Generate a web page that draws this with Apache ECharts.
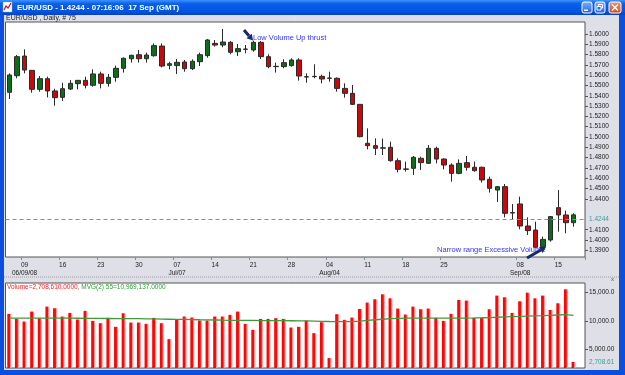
<!DOCTYPE html>
<html>
<head>
<meta charset="utf-8">
<title>EUR/USD Daily</title>
<script src="https://cdn.jsdelivr.net/npm/echarts@6/dist/echarts.min.js"></script>
<style>
html, body { margin: 0; padding: 0; background: #dfdfe7; }
#main { width: 625px; height: 375px; }
</style>
</head>
<body>
<div id="main"></div>
<script>
// daily bars: [open, close, low, high]
var candles = [
    [1.5434, 1.5602, 1.5369, 1.5618], [1.5595, 1.5780, 1.5570, 1.5796], [1.5786, 1.5650, 1.5618, 1.5851],
    [1.5647, 1.5463, 1.5430, 1.5650], [1.5463, 1.5566, 1.5440, 1.5592], [1.5566, 1.5447, 1.5385, 1.5586],
    [1.5447, 1.5382, 1.5304, 1.5469], [1.5385, 1.5469, 1.5350, 1.5527], [1.5466, 1.5521, 1.5456, 1.5553],
    [1.5518, 1.5550, 1.5463, 1.5553], [1.5550, 1.5502, 1.5472, 1.5586], [1.5502, 1.5612, 1.5489, 1.5657],
    [1.5612, 1.5521, 1.5472, 1.5634], [1.5521, 1.5579, 1.5489, 1.5612], [1.5579, 1.5667, 1.5537, 1.5693],
    [1.5667, 1.5764, 1.5625, 1.5773], [1.5760, 1.5793, 1.5722, 1.5799], [1.5799, 1.5760, 1.5722, 1.5845],
    [1.5760, 1.5796, 1.5722, 1.5819], [1.5789, 1.5887, 1.5780, 1.5909], [1.5883, 1.5689, 1.5676, 1.5909],
    [1.5696, 1.5712, 1.5657, 1.5731], [1.5693, 1.5725, 1.5612, 1.5757], [1.5728, 1.5663, 1.5634, 1.5748],
    [1.5663, 1.5735, 1.5650, 1.5754], [1.5731, 1.5799, 1.5689, 1.5819], [1.5790, 1.5942, 1.5770, 1.5951],
    [1.5909, 1.5893, 1.5877, 1.5942], [1.5893, 1.5922, 1.5871, 1.6049], [1.5919, 1.5822, 1.5803, 1.5932],
    [1.5828, 1.5858, 1.5786, 1.5903], [1.5854, 1.5851, 1.5812, 1.5893], [1.5845, 1.5919, 1.5828, 1.5935],
    [1.5919, 1.5780, 1.5757, 1.5932], [1.5780, 1.5683, 1.5667, 1.5803], [1.5683, 1.5686, 1.5625, 1.5722],
    [1.5683, 1.5722, 1.5667, 1.5754], [1.5693, 1.5748, 1.5683, 1.5764], [1.5748, 1.5592, 1.5547, 1.5764],
    [1.5586, 1.5582, 1.5527, 1.5618], [1.5589, 1.5586, 1.5570, 1.5706], [1.5589, 1.5563, 1.5521, 1.5605],
    [1.5570, 1.5573, 1.5537, 1.5634], [1.5570, 1.5472, 1.5440, 1.5579], [1.5472, 1.5424, 1.5382, 1.5521],
    [1.5424, 1.5317, 1.5311, 1.5505], [1.5317, 1.5003, 1.4997, 1.5317], [1.4939, 1.4916, 1.4880, 1.5084],
    [1.4916, 1.4890, 1.4825, 1.4987], [1.4895, 1.4892, 1.4825, 1.4985], [1.4900, 1.4770, 1.4761, 1.4955],
    [1.4770, 1.4686, 1.4657, 1.4793], [1.4686, 1.4690, 1.4664, 1.4761], [1.4696, 1.4803, 1.4631, 1.4816],
    [1.4793, 1.4751, 1.4680, 1.4809], [1.4744, 1.4890, 1.4738, 1.4922], [1.4890, 1.4786, 1.4744, 1.4906],
    [1.4786, 1.4728, 1.4686, 1.4793], [1.4728, 1.4647, 1.4566, 1.4744], [1.4647, 1.4744, 1.4638, 1.4783],
    [1.4751, 1.4706, 1.4673, 1.4816], [1.4706, 1.4673, 1.4663, 1.4761], [1.4706, 1.4583, 1.4557, 1.4712],
    [1.4589, 1.4502, 1.4460, 1.4615], [1.4485, 1.4518, 1.4369, 1.4524], [1.4518, 1.4259, 1.4220, 1.4544],
    [1.4262, 1.4266, 1.4194, 1.4350], [1.4350, 1.4136, 1.4104, 1.4421], [1.4136, 1.4091, 1.4049, 1.4220],
    [1.4097, 1.3929, 1.3926, 1.4178], [1.3935, 1.4006, 1.3929, 1.4032], [1.4000, 1.4227, 1.3984, 1.4233],
    [1.4314, 1.4243, 1.4081, 1.4485], [1.4243, 1.4168, 1.4065, 1.4285], [1.4168, 1.4244, 1.4129, 1.4259]
];

// volume in thousands
var volume = [
    11240, 10350, 9880, 11650, 10470, 12530, 12240, 10770, 11410, 10240,
    11770, 10000, 9590, 10530, 8940, 11350, 9700, 9700, 9470, 10530,
    9590, 6760, 10290, 10770, 10590, 10060, 10060, 10770, 10770, 11060,
    11650, 9470, 8410, 10350, 10350, 10470, 10350, 8820, 8940, 10060,
    7820, 9760, 3400, 11180, 10180, 10590, 12120, 13240, 13830, 14710,
    14000, 12180, 11120, 12530, 12060, 12180, 10530, 10000, 11240, 13710,
    13590, 10530, 10530, 12060, 14480, 14180, 11410, 13480, 15000, 14000,
    14480, 11940, 13120, 15600, 2708.61
];

// MVG 55 line
var volumeMa = [
    10470, 10470, 10480, 10480, 10470, 10480, 10490, 10480, 10470, 10460,
    10450, 10440, 10430, 10420, 10400, 10400, 10390, 10380, 10360, 10340,
    10310, 10290, 10270, 10250, 10230, 10200, 10180, 10150, 10120, 10100,
    10090, 10080, 10070, 10060, 10050, 10040, 10030, 10020, 10010, 10000,
    9960, 9920, 9890, 9880, 9880, 9890, 9950, 10100, 10200, 10290,
    10380, 10450, 10470, 10470, 10480, 10480, 10470, 10470, 10470, 10480,
    10500, 10520, 10550, 10590, 10640, 10700, 10760, 10800, 10850, 10900,
    10940, 10990, 11040, 11090, 10969
];

var priceTicks = [1.39, 1.40, 1.41, 1.44, 1.45, 1.46, 1.47, 1.48, 1.49, 1.50, 1.51,
    1.52, 1.53, 1.54, 1.55, 1.56, 1.57, 1.58, 1.59, 1.60];
var volTicks = [5000, 10000, 15000];
var volTickText = ['5,000.00', '10,000.0', '15,000.0'];

var tickIdx = [2, 7, 12, 17, 22, 27, 32, 37, 42, 47, 52, 57, 67, 72];
var tickDay = ['09', '16', '23', '30', '07', '14', '21', '28', '04', '11', '18', '25', '08', '15'];
var tickMonth = ['06/09/08', '', '', '', 'Jul/07', '', '', '', 'Aug/04', '', '', '', 'Sep/08', ''];

var lastPrice = 1.4244;
var lastVolume = 2708.61;

// trading days 5 Jun - 17 Sep 2008, plus one empty slot at the right edge
var dates = [];
var d = new Date(Date.UTC(2008, 5, 5));
while (dates.length < candles.length) {
    var wd = d.getUTCDay();
    if (wd != 0 && wd != 6) dates.push(d.toISOString().slice(0, 10));
    d.setUTCDate(d.getUTCDate() + 1);
}
dates.push('');

var FONT = 'Liberation Sans';

function arrow(x1, y1, x2, y2) {
    var a = Math.atan2(y2 - y1, x2 - x1);
    var hl = 6, hw = 3.5;
    var bx = x2 - hl * Math.cos(a), by = y2 - hl * Math.sin(a);
    var px = -Math.sin(a) * hw, py = Math.cos(a) * hw;
    return [
        { type: 'line', z: 50, shape: { x1: x1, y1: y1, x2: bx, y2: by },
          style: { stroke: '#142a6e', lineWidth: 3 } },
        { type: 'polygon', z: 50, shape: { points: [[x2, y2], [bx + px, by + py], [bx - px, by - py]] },
          style: { fill: '#142a6e' } }
    ];
}

function blueBtn(x, w) {
    return { type: 'rect', z: 60, shape: { x: x, y: 2, width: w, height: 11, r: 2 },
        style: { fill: new echarts.graphic.LinearGradient(0, 0, 0, 1, [
            { offset: 0, color: '#7fb0ff' }, { offset: 1, color: '#1f5fe8' }]), stroke: '#fff', lineWidth: 1 } };
}

var chrome = [
    // window frame
    { type: 'rect', z: 40, shape: { x: 0, y: 0, width: 4, height: 375 }, style: { fill: '#0b4ee0' } },
    { type: 'rect', z: 40, shape: { x: 619, y: 0, width: 6, height: 375 }, style: { fill: '#0b4ee0' } },
    { type: 'rect', z: 40, shape: { x: 0, y: 370, width: 625, height: 5 }, style: { fill: '#0b4ee0' } },
    // title bar
    { type: 'rect', z: 45, shape: { x: 0, y: 0, width: 625, height: 15 },
      style: { fill: new echarts.graphic.LinearGradient(0, 0, 0, 1, [
          { offset: 0, color: '#3d93ff' }, { offset: 0.25, color: '#0a5fea' },
          { offset: 0.8, color: '#0053e0' }, { offset: 1, color: '#0440c4' }]) } },
    { type: 'rect', z: 60, shape: { x: 3, y: 2, width: 9, height: 10 }, style: { fill: '#fff', stroke: '#8aa', lineWidth: 0.5 } },
    { type: 'polyline', z: 61, shape: { points: [[4, 10], [6, 6], [8, 8], [11, 3]] }, style: { stroke: '#d01010', lineWidth: 1.2 } },
    { type: 'text', z: 60, x: 17, y: 7.5, style: { text: 'EUR/USD - 1.4244 - 07:16:06  17 Sep (GMT)',
        fill: '#fff', font: 'bold 8px ' + FONT, verticalAlign: 'middle' } },
    blueBtn(582, 10),
    { type: 'rect', z: 61, shape: { x: 584, y: 9.5, width: 4, height: 1.5 }, style: { fill: '#fff' } },
    blueBtn(595, 10),
    { type: 'rect', z: 61, shape: { x: 598.5, y: 4.5, width: 4, height: 3.5 }, style: { fill: 'none', stroke: '#fff', lineWidth: 1 } },
    { type: 'rect', z: 61, shape: { x: 597, y: 6.5, width: 4, height: 3.5 }, style: { fill: '#2a66e8', stroke: '#fff', lineWidth: 1 } },
    { type: 'rect', z: 60, shape: { x: 609, y: 2, width: 12, height: 11, r: 2 },
      style: { fill: new echarts.graphic.LinearGradient(0, 0, 0, 1, [
          { offset: 0, color: '#f29a7a' }, { offset: 1, color: '#d9401c' }]), stroke: '#fff', lineWidth: 1 } },
    { type: 'line', z: 61, shape: { x1: 612, y1: 4.5, x2: 618, y2: 10.5 }, style: { stroke: '#fff', lineWidth: 1.5 } },
    { type: 'line', z: 61, shape: { x1: 618, y1: 4.5, x2: 612, y2: 10.5 }, style: { stroke: '#fff', lineWidth: 1.5 } },
    // pane headers and separator
    { type: 'text', z: 30, x: 6, y: 18.5, style: { text: 'EUR/USD , Daily, # 75', fill: '#222',
        font: '7px ' + FONT, verticalAlign: 'middle' } },
    { type: 'line', z: 30, shape: { x1: 4, y1: 277, x2: 619, y2: 277 }, style: { stroke: '#9a9aa4', lineDash: [1, 1], lineWidth: 1 } },
    { type: 'text', z: 30, x: 611, y: 279.5, style: { text: 'x', fill: '#555', font: '6px ' + FONT, verticalAlign: 'middle' } },
    { type: 'text', z: 30, x: 7, y: 287, style: {
        text: '{r|Volume=2,708,610.0000}{g|, MVG(2) 55=10,969,137.0000}',
        font: '6.5px ' + FONT, verticalAlign: 'middle',
        rich: { r: { fill: '#ff2020', font: '6.5px ' + FONT }, g: { fill: '#2e9a3a', font: '6.5px ' + FONT } } } },
    // annotations
    { type: 'text', z: 50, x: 253, y: 37.5, style: { text: 'Low Volume Up thrust', fill: '#3434ff',
        font: '7.5px ' + FONT, verticalAlign: 'middle' } },
    { type: 'text', z: 50, x: 437, y: 249.5, style: { text: 'Narrow range Excessive Volume', fill: '#3434ff',
        font: '7.5px ' + FONT, verticalAlign: 'middle' } }
].concat(arrow(244, 30, 253, 40.5), arrow(527, 258, 546, 247));

var myChart = echarts.init(document.getElementById('main'), null, { renderer: 'canvas' });

var axisText = { fontSize: 6.5, color: '#222', fontFamily: FONT };

myChart.setOption({
    animation: false,
    backgroundColor: '#dfdfe7',
    grid: [
        { left: 5.5, right: 40, top: 22, height: 235, show: true, backgroundColor: '#fff', borderColor: '#555', borderWidth: 1 },
        { left: 5.5, right: 40, top: 283, height: 85, show: true, backgroundColor: '#fff', borderColor: '#555', borderWidth: 1 }
    ],
    xAxis: [
        {
            type: 'category', gridIndex: 0, data: dates,
            axisLine: { show: false },
            axisTick: { show: true, length: 3, lineStyle: { color: '#6a9aa0' },
                interval: function (i) { return tickIdx.indexOf(i) >= 0; } },
            axisLabel: Object.assign({
                margin: 4, lineHeight: 8,
                interval: function (i) { return tickIdx.indexOf(i) >= 0; },
                formatter: function (v, i) {
                    var k = tickIdx.indexOf(i);
                    if (k < 0) return '';
                    return tickMonth[k] ? tickDay[k] + '\n' + tickMonth[k] : tickDay[k];
                }
            }, axisText),
            splitLine: { show: false }
        },
        {
            type: 'category', gridIndex: 1, data: dates,
            axisLine: { show: false }, axisTick: { show: false }, axisLabel: { show: false }, splitLine: { show: false }
        }
    ],
    yAxis: [
        {
            type: 'value', gridIndex: 0, position: 'right', min: 1.3835, max: 1.61165,
            axisLine: { show: false },
            axisTick: { show: true, length: 3, customValues: priceTicks, lineStyle: { color: '#555' } },
            axisLabel: Object.assign({ margin: 4, customValues: priceTicks,
                formatter: function (v) { return v.toFixed(4); } }, axisText),
            splitLine: { show: false }
        },
        {
            type: 'value', gridIndex: 1, position: 'right', min: 1642, max: 16714,
            axisLine: { show: false },
            axisTick: { show: true, length: 3, customValues: volTicks, lineStyle: { color: '#555' } },
            axisLabel: Object.assign({ margin: 4, customValues: volTicks,
                formatter: function (v) { return volTickText[volTicks.indexOf(v)] || ''; } }, axisText),
            splitLine: { show: false }
        }
    ],
    series: [
        {
            type: 'candlestick', xAxisIndex: 0, yAxisIndex: 0, data: candles, barWidth: 5,
            itemStyle: { color: '#0b6e1a', color0: '#c8080c', borderColor: '#2a2a2a', borderColor0: '#2a2a2a', borderWidth: 1 },
            markLine: {
                silent: true, symbol: 'none',
                lineStyle: { type: [4, 3], color: '#4fa6ae', width: 1.2 },
                label: { show: true, position: 'end', distance: 4, formatter: lastPrice.toFixed(4),
                    color: '#3a9c9c', fontSize: 6.5, fontFamily: FONT },
                data: [{ yAxis: lastPrice }]
            }
        },
        {
            type: 'bar', xAxisIndex: 1, yAxisIndex: 1, data: volume, barWidth: 4,
            itemStyle: { color: new echarts.graphic.LinearGradient(0, 0, 1, 0, [
                { offset: 0, color: '#ff0000' }, { offset: 0.6, color: '#ff0a0a' },
                { offset: 0.75, color: '#ff8a8a' }, { offset: 1, color: '#ffb4b4' }]) },
            markLine: {
                silent: true, symbol: 'none',
                lineStyle: { color: 'rgba(0,0,0,0)' },
                label: { show: true, position: 'end', distance: 4, formatter: '2,708.61',
                    color: '#3a9c9c', fontSize: 6.5, fontFamily: FONT },
                data: [{ yAxis: lastVolume }]
            }
        },
        {
            type: 'line', xAxisIndex: 1, yAxisIndex: 1, data: volumeMa, symbol: 'none', z: 5,
            lineStyle: { color: '#3f9a3c', width: 1.3 }
        }
    ],
    graphic: { elements: chrome }
});
</script>
</body>
</html>
